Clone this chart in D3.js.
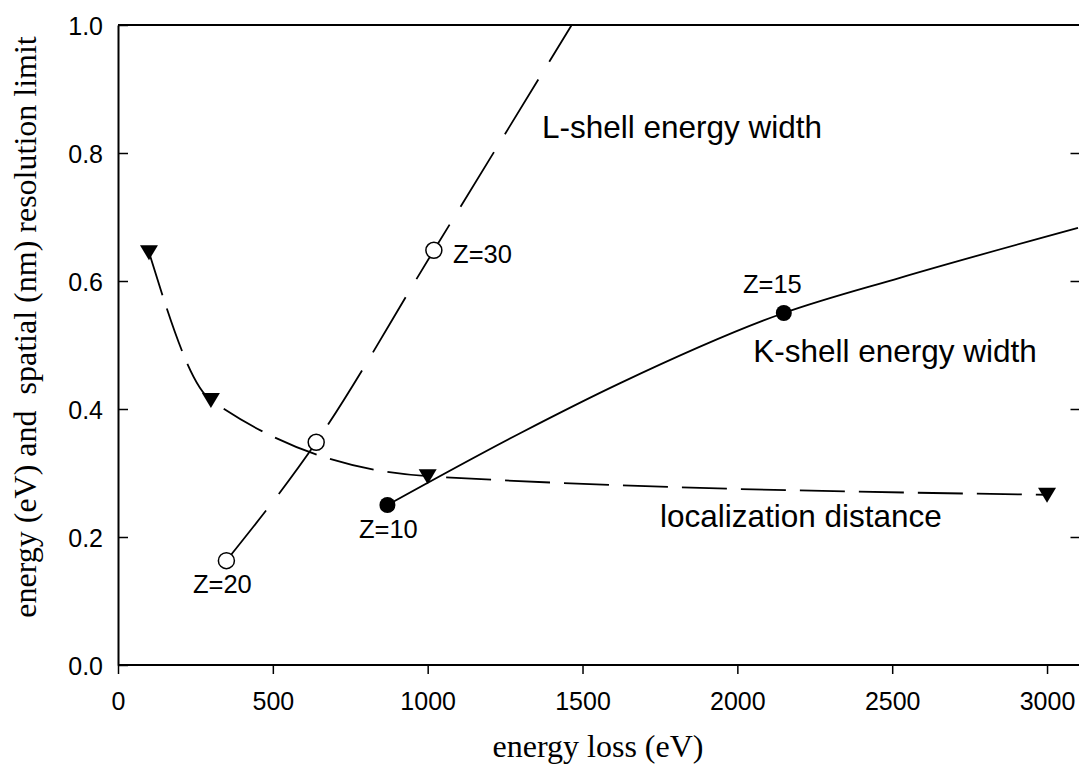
<!DOCTYPE html>
<html lang="en">
<head>
  <meta charset="UTF-8">
  <title>energy loss resolution limit</title>
  <script src="https://d3js.org/d3.v7.min.js"></script>
  <style>
    body { margin: 0; background: #fff; }
    .tick text { font-family: "Liberation Sans", Arial, sans-serif; font-size: 25px; fill: #000; }
    .anno { font-family: "Liberation Sans", Arial, sans-serif; fill: #000; }
    .title { font-family: "Liberation Serif", "Times New Roman", serif; font-size: 32px; fill: #000; }
  </style>
</head>
<body>
<script>
  // axis ticks
  var xTicks = [0, 500, 1000, 1500, 2000, 2500, 3000]
  var yTicks = [0, 0.2, 0.4, 0.6, 0.8, 1.0]

  // localization distance (dashed, down triangles)
  var locE = [100, 300, 1000, 3000]
  var locV = [0.645, 0.414, 0.295, 0.266]

  // L-shell energy width (long dashes, open circles)
  var lE = [350, 640, 1020]
  var lV = [0.163, 0.348, 0.648]
  var lLineE = [350, 640, 1020, 1465]
  var lLineV = [0.163, 0.348, 0.648, 1.0]

  // K-shell energy width (solid, filled circles)
  var kE = [870, 2150]
  var kV = [0.25, 0.55]
  var kLineE = [870, 1300, 1620, 2150, 2525, 3100]
  var kLineV = [0.25, 0.3625, 0.44, 0.55, 0.605, 0.683]

  // labels placed in data units
  var zText = ['Z=20', 'Z=30', 'Z=10', 'Z=15']
  var zE = [242, 1082, 778, 2018]
  var zV = [0.1125, 0.628, 0.198, 0.581]
  var curveText = ['L-shell energy width', 'K-shell energy width', 'localization distance']
  var curveE = [1369, 2051, 1750]
  var curveV = [0.823, 0.473, 0.216]

  var width = 1079, height = 770
  var padding = {top: 25, right: 1, bottom: 105, left: 118}

  var svg = d3.select('body').append('svg').attr('width', width).attr('height', height)

  var xScale = d3.scaleLinear().domain([0, 3100]).range([padding.left, 1078])
  var yScale = d3.scaleLinear().domain([0, 1]).range([height - padding.bottom, padding.top])

  function zip(a, b) { return a.map(function (d, i) { return [d, b[i]] }) }

  // frame
  svg.append('line').attr('x1', padding.left).attr('x2', width).attr('y1', yScale(1)).attr('y2', yScale(1))
    .attr('stroke', '#000').attr('stroke-width', 2)

  var xAxis = d3.axisBottom(xScale).tickValues(xTicks).tickSizeInner(9).tickSizeOuter(0).tickPadding(18)
    .tickFormat(d3.format('d'))
  var gx = svg.append('g').attr('transform', 'translate(0,' + yScale(0) + ')').call(xAxis)
  gx.select('.domain').attr('d', 'M' + padding.left + ',0H' + width).attr('stroke-width', 2)

  var yAxis = d3.axisLeft(yScale).tickValues(yTicks).tickSizeInner(-10).tickSizeOuter(0).tickPadding(15)
    .tickFormat(d3.format('.1f'))
  var gy = svg.append('g').attr('transform', 'translate(' + padding.left + ',0)').call(yAxis)
  gy.select('.domain').attr('stroke-width', 2)
  gy.selectAll('.tick text').attr('dy', '0.36em')

  var yRight = d3.axisRight(yScale).tickValues(yTicks.slice(1, 5)).tickSizeInner(-9).tickSizeOuter(0).tickFormat('')
  var gr = svg.append('g').attr('transform', 'translate(1079.5,0)').call(yRight)
  gr.select('.domain').remove()

  svg.selectAll('.tick line').attr('stroke-width', 1.5)

  // curves
  var line = d3.line().x(function (d) { return xScale(d[0]) }).y(function (d) { return yScale(d[1]) })
    .curve(d3.curveMonotoneX)

  svg.append('path').datum(zip(locE, locV)).attr('d', line)
    .attr('fill', 'none').attr('stroke', '#000').attr('stroke-width', 1.8).attr('stroke-dasharray', '45,14')
  svg.append('path').datum(zip(lLineE, lLineV)).attr('d', line)
    .attr('fill', 'none').attr('stroke', '#000').attr('stroke-width', 1.8).attr('stroke-dasharray', '64,21')
  svg.append('path').datum(zip(kLineE, kLineV)).attr('d', line)
    .attr('fill', 'none').attr('stroke', '#000').attr('stroke-width', 1.8)

  // markers
  svg.selectAll('.tri').data(zip(locE, locV)).enter().append('path').attr('class', 'tri')
    .attr('d', 'M-9,-7L9,-7L0,8Z')
    .attr('transform', function (d) { return 'translate(' + xScale(d[0]) + ',' + yScale(d[1]) + ')' })
    .attr('fill', '#000')
  svg.selectAll('.open').data(zip(lE, lV)).enter().append('circle').attr('class', 'open')
    .attr('cx', function (d) { return xScale(d[0]) }).attr('cy', function (d) { return yScale(d[1]) })
    .attr('r', 8).attr('fill', '#fff').attr('stroke', '#000').attr('stroke-width', 1.5)
  svg.selectAll('.fill').data(zip(kE, kV)).enter().append('circle').attr('class', 'fill')
    .attr('cx', function (d) { return xScale(d[0]) }).attr('cy', function (d) { return yScale(d[1]) })
    .attr('r', 8).attr('fill', '#000')

  // labels
  svg.selectAll('.zlab').data(zText).enter().append('text').attr('class', 'anno zlab')
    .attr('x', function (d, i) { return xScale(zE[i]) }).attr('y', function (d, i) { return yScale(zV[i]) })
    .attr('font-size', 25.5).text(function (d) { return d })
  svg.selectAll('.clab').data(curveText).enter().append('text').attr('class', 'anno clab')
    .attr('x', function (d, i) { return xScale(curveE[i]) }).attr('y', function (d, i) { return yScale(curveV[i]) })
    .attr('font-size', 31.5).text(function (d) { return d })

  // axis titles
  svg.append('text').attr('class', 'title').attr('text-anchor', 'middle')
    .attr('x', (padding.left + 1078) / 2).attr('y', 757).text('energy loss (eV)')
  svg.append('text').attr('class', 'title').attr('text-anchor', 'middle')
    .attr('transform', 'translate(36,327) rotate(-90)').text('energy (eV) and  spatial (nm) resolution limit')
    .style('white-space', 'pre')
</script>
</body>
</html>
